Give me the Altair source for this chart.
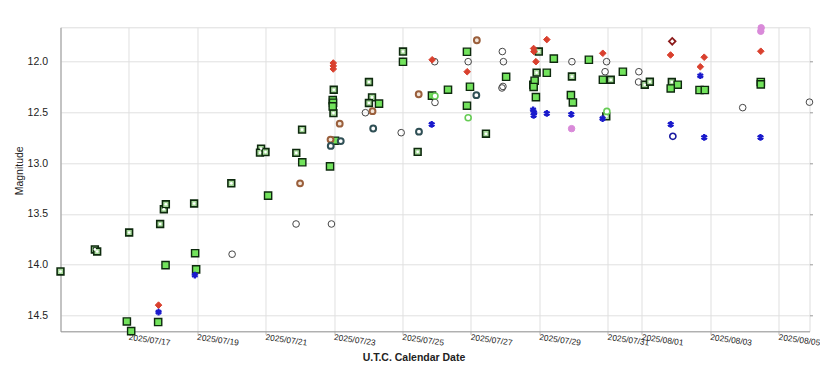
import altair as alt
import pandas as pd

# x values: days since 2025-07-15 00:00 UTC ; y values: magnitude
TICK_DAYS = [2, 4, 6, 8, 10, 12, 14, 16, 17, 19, 21]
MAG_TICKS = [12.0, 12.5, 13.0, 13.5, 14.0, 14.5]

# green filled squares
vsq_day = [1.94, 2.066, 2.855, 3.071, 3.936, 3.965, 6.069, 7.068, 7.880, 7.959, 7.968, 7.959,
           8.026, 9.312, 10.013, 10.860, 11.328, 11.883, 11.971, 11.883, 13.028, 13.823, 13.861,
           13.832, 13.899, 14.217, 14.422, 15.447, 14.922, 14.980, 15.857, 16.441, 18.045,
           17.840, 18.682, 18.837, 20.473, 20.473]
vsq_mag = [14.56, 14.655, 14.566, 14.005, 13.887, 14.047, 13.319, 12.991, 13.031, 12.378, 12.404, 12.44,
           12.778, 12.413, 12.000, 12.334, 12.275, 11.901, 12.246, 12.433, 12.148, 12.228, 12.187,
           12.248, 12.348, 12.108, 11.969, 11.980, 12.329, 12.401, 12.177, 12.098, 12.226,
           12.263, 12.278, 12.278, 12.199, 12.223]

# green squares with white centre
dsq_day = [0.0, 1.005, 1.072, 2.007, 2.913, 3.021, 3.080, 3.906, 4.993, 5.864, 5.832, 5.993,
           6.893, 7.062, 7.988, 7.979, 9.017, 9.107, 9.017, 10.013, 10.442, 12.438, 13.984,
           13.919, 14.951, 16.087, 17.081, 17.230, 17.872, 15.956]
dsq_mag = [14.067, 13.850, 13.870, 13.683, 13.599, 13.454, 13.405, 13.397, 13.198, 12.856, 12.896, 12.890,
           12.898, 12.669, 12.276, 12.506, 12.199, 12.351, 12.406, 11.899, 12.888, 12.709, 11.899,
           12.107, 12.145, 12.177, 12.226, 12.197, 12.199, 12.538]

# open grey circles
oc_day = [5.017, 6.887, 7.921, 8.914, 9.960, 10.939, 10.948, 11.918, 12.917, 12.949, 12.906,
          12.935, 14.951, 15.965, 15.921, 16.908, 16.900, 19.944, 21.896]
oc_mag = [13.897, 13.599, 13.599, 12.502, 12.699, 11.999, 12.401, 11.999, 11.899, 11.999, 12.258,
          12.243, 11.999, 11.999, 12.098, 12.098, 12.199, 12.452, 12.398]

# green-ringed open circles
gc_day = [10.948, 11.918, 15.973]
gc_mag = [12.337, 12.551, 12.489]

# brown ring circles
br_day = [7.004, 8.163, 7.895, 9.122, 10.472, 12.172]
br_mag = [13.198, 12.610, 12.767, 12.487, 12.320, 11.788]

# dark slate circles
sl_day = [7.901, 8.193, 9.142, 10.480, 12.157]
sl_mag = [12.829, 12.782, 12.658, 12.689, 12.329]

# red diamonds
rd_day = [2.866, 7.974, 7.974, 7.974, 10.866, 11.889, 13.832, 13.841, 13.899, 14.217, 15.854,
          17.835, 18.705, 18.819, 20.473]
rd_mag = [14.399, 12.012, 12.041, 12.071, 11.980, 12.098, 11.869, 11.899, 11.999, 11.781, 11.916,
          11.933, 12.049, 11.955, 11.896]

# dark red open diamond
od_day = [17.884]
od_mag = [11.798]

# blue asterisks
bs_day = [2.866, 3.927, 10.852, 13.817, 13.846, 13.832, 14.217, 14.933, 15.848, 17.840, 18.705,
          18.819, 20.464]
bs_mag = [14.468, 14.103, 12.617, 12.474, 12.504, 12.529, 12.509, 12.519, 12.561, 12.617, 12.138,
          12.745, 12.745]

# blue open circle
bc_day = [17.902]
bc_mag = [12.735]

# violet filled circles
vi_day = [14.942, 20.485, 20.473]
vi_mag = [12.659, 11.665, 11.699]

FONT = "Liberation Sans"


def frame(days, mags):
    return pd.DataFrame({"day": days, "mag": mags})


xscale = alt.Scale(domain=[0.0, 21.897], nice=False, zero=False)
yscale = alt.Scale(domain=[11.66, 14.657], reverse=True, nice=False, zero=False)

X = alt.X("day:Q", scale=xscale, axis=alt.Axis(
    values=TICK_DAYS,
    labelExpr="utcFormat(utc(2025, 6, 15 + datum.value), '%Y/%m/%d')",
    labelAngle=8, labelAlign="left", labelBaseline="top", labelFontSize=8.4,
    labelPadding=-2, tickSize=3, labelOverlap=False, labelFlush=False,
    labelFont=FONT, labelColor="#222",
    title="U.T.C. Calendar Date", titleFont=FONT, titleFontSize=10.5, titleFontWeight="bold",
    titleColor="#222", titleX=353, titleY=29, titleBaseline="alphabetic", titleAlign="center",
    grid=True, gridColor="#e0e0e0", domainColor="#999", tickColor="#bbb"))

Y = alt.Y("mag:Q", scale=yscale, axis=alt.Axis(
    values=MAG_TICKS, format=".1f", ticks=False, labelPadding=13, labelFontSize=10.5,
    labelFont=FONT, labelColor="#222",
    title="Magnitude", titleFont=FONT, titleFontSize=10.5, titleFontWeight="normal",
    titleColor="#222", titleAngle=-90, titleX=-38, titleY=143, titleBaseline="alphabetic",
    titleAlign="center",
    grid=True, gridColor="#e0e0e0", domainColor="#999"))


def pts(days, mags, **style):
    base = dict(opacity=1, fillOpacity=1)
    base.update(style)
    return alt.Chart(frame(days, mags)).mark_point(**base).encode(x=X, y=Y)


ASTERISK = "M0,-1L0,1M-0.866,-0.5L0.866,0.5M-0.866,0.5L0.866,-0.5"

layers = [
    pts(dsq_day, dsq_mag, shape="square", size=46, fill="#a6d99a", stroke="#0e2a0e", strokeWidth=1.6),
    pts(dsq_day, dsq_mag, shape="circle", size=7, fill="#ffffff", stroke="#ffffff", strokeWidth=0),
    pts(vsq_day, vsq_mag, shape="square", size=52, fill="#72e35c", stroke="#0e2a0e", strokeWidth=1.4),
    pts(oc_day, oc_mag, shape="circle", size=44, fill="#ffffff", fillOpacity=0, stroke="#444444", strokeWidth=1),
    pts(gc_day, gc_mag, shape="circle", size=36, fill="#ffffff", stroke="#66cc55", strokeWidth=1.6),
    pts(br_day, br_mag, shape="circle", size=34, fill="#f3e6da", stroke="#9a5f3c", strokeWidth=2),
    pts(sl_day, sl_mag, shape="circle", size=34, fill="#ffffff", stroke="#2f4f55", strokeWidth=2),
    pts(rd_day, rd_mag, shape="diamond", size=44, fill="#d9402e", stroke="#d9402e", strokeWidth=1),
    pts(od_day, od_mag, shape="diamond", size=44, fill="#ffffff", stroke="#8b1a1a", strokeWidth=1.8),
    pts(bs_day, bs_mag, shape=ASTERISK, size=44, fill="#1a1acc", fillOpacity=0, stroke="#1a1acc", strokeWidth=2.3),
    pts(bc_day, bc_mag, shape="circle", size=38, fill="#ffffff", stroke="#1a1aa0", strokeWidth=1.6),
    pts(vi_day, vi_mag, shape="circle", size=42, fill="#d98ad9", stroke="#d98ad9", strokeWidth=1),
]

main = alt.layer(*layers)

right = alt.Chart(pd.DataFrame({"mag": [12.0]})).mark_point(opacity=0).encode(
    y=alt.Y("mag:Q", scale=yscale, axis=alt.Axis(
        orient="right", values=MAG_TICKS, labels=False, domain=False, grid=False,
        tickSize=3, tickColor="#999", title="")))

chart = alt.layer(main, right).resolve_axis(y="independent").properties(
    width=749, height=304,
    padding={"left": 52.5, "top": 19.3, "right": 10.5, "bottom": 40},
    autosize=alt.AutoSizeParams(type="none"),
).configure_view(stroke="#999", strokeWidth=1).configure(background="white")

chart.save("out.html", embed_options={"renderer": "svg", "actions": False})
